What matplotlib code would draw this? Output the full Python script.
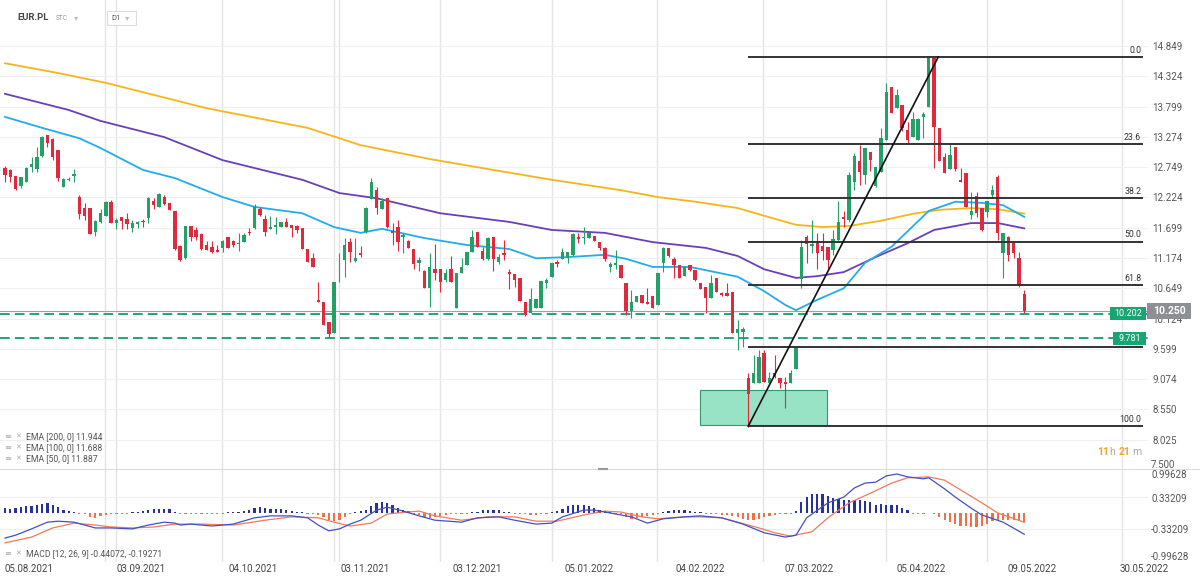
import numpy as np
import matplotlib
matplotlib.use("Agg")
import matplotlib.pyplot as plt
from matplotlib.patches import Rectangle
from matplotlib.lines import Line2D

plt.rcParams['font.family'] = ['Roboto', 'DejaVu Sans']

# daily candles, EUR.PL (05.08.2021 - 11.05.2022)
opens = [12.73, 12.70, 12.60, 12.42, 12.50, 12.76, 12.71, 12.94, 13.30, 13.23,
         13.05, 12.40, 12.52, 12.60, 12.23, 12.04, 12.04, 11.63, 11.80, 11.90,
         12.15, 11.78, 11.88, 11.85, 11.69, 11.76, 11.82, 11.86, 12.17, 12.06,
         12.23, 12.12, 11.99, 11.38, 11.17, 11.73, 11.66, 11.59, 11.40, 11.37,
         11.31, 11.34, 11.53, 11.47, 11.42, 11.46, 11.63, 11.69, 12.02, 11.85,
         11.68, 11.72, 11.71, 11.79, 11.75, 11.73, 11.69, 11.33, 11.17, 10.45,
         10.42, 10.07, 9.88, 11.01, 11.14, 11.46, 11.12, 11.26, 11.63, 12.19,
         12.35, 12.02, 12.21, 11.64, 11.72, 11.53, 11.47, 11.33, 11.08, 10.95,
         10.66, 10.99, 10.99, 10.79, 10.99, 10.30, 10.91, 11.05, 11.28, 11.63,
         11.30, 11.15, 11.53, 11.11, 11.26, 10.93, 10.90, 10.82, 10.42, 10.22,
         10.30, 10.30, 10.74, 10.85, 11.11, 11.15, 11.17, 11.23, 11.54, 11.52,
         11.52, 11.56, 11.45, 11.34, 11.01, 11.05, 11.05, 10.74, 10.26, 10.42,
         10.53, 10.42, 10.52, 10.36, 11.08, 11.34, 11.15, 11.05, 10.86, 11.05,
         10.97, 10.74, 10.68, 10.48, 10.83, 10.56, 10.56, 10.59, 9.87, 9.90,
         9.09, 9.00, 9.00, 9.52, 9.00, 9.19, 9.10, 9.02, 9.00, 9.25,
         10.81, 11.53, 11.38, 11.46, 11.38, 11.36, 11.31, 11.49, 11.88, 11.83,
         12.50, 12.86, 12.61, 13.02, 12.42, 12.67, 13.22, 14.14, 13.77, 13.83,
         13.40, 13.28, 13.22, 13.61, 13.80, 14.64, 13.42, 12.93, 12.71, 13.09,
         12.53, 12.64, 11.92, 12.25, 12.04, 11.98, 12.27, 12.58, 11.26, 11.54,
         11.43, 11.17, 10.55]
highs = [12.77, 12.71, 12.60, 12.58, 12.75, 12.93, 13.10, 13.29, 13.31, 13.25,
         13.05, 12.56, 12.58, 12.71, 12.27, 12.12, 12.04, 11.83, 12.02, 12.17,
         12.18, 11.86, 11.89, 11.96, 11.83, 11.82, 11.85, 12.23, 12.21, 12.30,
         12.27, 12.12, 11.99, 11.40, 11.73, 11.73, 11.72, 11.61, 11.47, 11.47,
         11.40, 11.49, 11.53, 11.49, 11.61, 11.60, 11.69, 12.11, 12.06, 11.92,
         11.90, 11.89, 11.80, 11.86, 11.75, 11.75, 11.69, 11.33, 11.26, 10.75,
         10.42, 10.07, 10.75, 11.26, 11.52, 11.52, 11.52, 11.38, 12.06, 12.56,
         12.41, 12.21, 12.21, 11.78, 11.83, 11.60, 11.49, 11.33, 11.19, 10.97,
         11.26, 11.42, 10.99, 10.99, 11.21, 10.91, 11.17, 11.27, 11.66, 11.63,
         11.36, 11.54, 11.54, 11.24, 11.49, 10.99, 10.90, 10.82, 10.42, 10.65,
         10.46, 10.78, 10.82, 11.09, 11.14, 11.34, 11.28, 11.60, 11.60, 11.71,
         11.63, 11.56, 11.46, 11.37, 11.11, 11.32, 11.05, 10.74, 10.62, 10.52,
         10.53, 10.65, 10.52, 10.91, 11.37, 11.34, 11.19, 11.05, 11.01, 11.06,
         10.97, 10.74, 10.68, 10.88, 10.83, 10.59, 10.74, 10.59, 10.10, 9.98,
         9.18, 9.49, 9.58, 9.58, 9.20, 9.49, 9.10, 9.12, 9.23, 9.64,
         11.49, 11.57, 11.83, 11.60, 11.60, 11.36, 11.66, 12.17, 11.99, 12.67,
         12.99, 13.13, 13.08, 13.02, 12.76, 13.42, 14.21, 14.14, 14.10, 13.83,
         13.54, 13.71, 13.60, 13.71, 14.66, 14.66, 13.42, 12.99, 13.16, 13.09,
         12.73, 12.64, 12.32, 12.32, 12.04, 12.17, 12.44, 12.61, 11.60, 11.56,
         11.43, 11.28, 10.62]
lows = [12.50, 12.50, 12.36, 12.39, 12.50, 12.67, 12.67, 12.93, 13.10, 12.87,
        12.51, 12.40, 12.51, 12.49, 11.85, 11.83, 11.59, 11.56, 11.78, 11.90,
        11.78, 11.68, 11.67, 11.67, 11.63, 11.69, 11.71, 11.78, 12.02, 12.05,
        12.09, 12.01, 11.31, 11.13, 11.16, 11.47, 11.49, 11.31, 11.31, 11.26,
        11.27, 11.27, 11.34, 11.36, 11.30, 11.45, 11.57, 11.68, 11.90, 11.56,
        11.67, 11.59, 11.71, 11.72, 11.54, 11.61, 11.33, 11.11, 11.01, 10.41,
        10.01, 9.81, 9.88, 10.76, 10.85, 11.11, 11.11, 11.20, 11.60, 12.19,
        11.93, 12.02, 11.69, 11.40, 11.30, 11.26, 11.35, 10.99, 10.95, 10.65,
        10.33, 10.79, 10.59, 10.76, 10.75, 10.30, 10.91, 11.05, 11.28, 11.36,
        11.14, 11.14, 10.95, 11.07, 11.14, 10.63, 10.68, 10.43, 10.17, 10.22,
        10.30, 10.30, 10.65, 10.85, 11.01, 11.15, 11.08, 11.21, 11.44, 11.42,
        11.52, 11.47, 11.31, 11.13, 10.94, 10.99, 10.82, 10.19, 10.13, 10.42,
        10.40, 10.38, 10.30, 10.36, 10.94, 11.20, 10.82, 10.82, 10.86, 10.95,
        10.78, 10.63, 10.23, 10.48, 10.58, 10.52, 10.52, 9.87, 9.58, 9.64,
        8.25, 9.00, 9.00, 9.03, 9.00, 9.09, 8.92, 8.57, 9.00, 9.25,
        10.65, 11.09, 11.26, 10.98, 11.14, 10.97, 11.23, 11.46, 11.72, 11.80,
        12.35, 12.44, 12.46, 12.69, 12.40, 12.67, 13.22, 13.69, 13.77, 13.38,
        13.17, 13.28, 13.22, 13.25, 13.80, 12.73, 12.86, 12.65, 12.71, 12.69,
        12.50, 12.06, 11.85, 11.89, 11.65, 11.89, 12.24, 11.49, 10.82, 11.13,
        11.17, 10.68, 10.22]
closes = [12.61, 12.58, 12.37, 12.57, 12.73, 12.80, 12.93, 13.28, 13.16, 12.93,
          12.56, 12.54, 12.54, 12.63, 11.93, 11.90, 11.59, 11.82, 11.95, 12.15,
          11.78, 11.83, 11.82, 11.76, 11.78, 11.80, 11.79, 12.21, 12.10, 12.28,
          12.11, 12.01, 11.33, 11.14, 11.73, 11.54, 11.54, 11.33, 11.31, 11.28,
          11.28, 11.47, 11.34, 11.40, 11.44, 11.57, 11.60, 12.06, 11.92, 11.63,
          11.71, 11.75, 11.79, 11.72, 11.69, 11.66, 11.33, 11.11, 11.01, 10.41,
          10.01, 9.86, 10.75, 11.02, 11.40, 11.27, 11.17, 11.23, 12.04, 12.50,
          12.04, 12.17, 11.71, 11.61, 11.46, 11.57, 11.35, 11.07, 11.14, 10.66,
          11.02, 10.91, 10.76, 10.92, 10.75, 10.91, 11.02, 11.27, 11.53, 11.36,
          11.15, 11.52, 11.15, 11.19, 11.23, 10.90, 10.79, 10.43, 10.19, 10.46,
          10.46, 10.78, 10.79, 11.09, 11.07, 11.27, 11.28, 11.59, 11.50, 11.54,
          11.60, 11.47, 11.34, 11.15, 11.07, 11.08, 10.82, 10.26, 10.42, 10.52,
          10.40, 10.38, 10.30, 10.91, 11.34, 11.21, 11.05, 10.82, 11.01, 10.97,
          10.79, 10.63, 10.48, 10.74, 10.58, 10.53, 10.52, 9.88, 9.94, 9.94,
          8.82, 9.18, 9.46, 9.03, 9.09, 9.12, 9.00, 8.99, 9.18, 9.64,
          11.36, 11.42, 11.42, 11.26, 11.30, 11.14, 11.50, 11.80, 11.85, 12.61,
          12.94, 12.67, 13.08, 12.87, 12.75, 13.25, 14.06, 13.69, 14.00, 13.42,
          13.22, 13.58, 13.58, 13.67, 14.65, 13.44, 12.86, 12.65, 12.96, 12.71,
          12.50, 12.06, 11.99, 11.95, 11.66, 12.17, 12.35, 11.60, 11.60, 11.23,
          11.26, 10.71, 10.25]

# moving averages read at selected candles
ema200_idx = [0, 10, 19, 38, 57, 67, 80, 92, 103, 116, 123, 130, 138, 144, 149, 154,
              159, 165, 171, 176, 182, 187, 192]
ema200_val = [14.55, 14.38, 14.21, 13.77, 13.43, 13.13, 12.89, 12.70, 12.53, 12.35, 12.23,
              12.15, 12.04, 11.88, 11.75, 11.71, 11.73, 11.82, 11.94, 12.01, 12.04, 12.02, 11.944]
ema100_idx = [0, 12, 18, 30, 41, 56, 63, 70, 82, 95, 103, 113, 122, 132, 138, 143, 149,
              153, 158, 164, 170, 175, 182, 187, 192]
ema100_val = [14.02, 13.74, 13.55, 13.27, 12.87, 12.53, 12.30, 12.21, 11.95, 11.80, 11.66,
              11.61, 11.45, 11.35, 11.21, 10.98, 10.83, 10.86, 10.93, 11.19, 11.43, 11.66,
              11.78, 11.78, 11.688]
ema50_idx = [0, 7, 14, 18, 26, 32, 41, 47, 56, 62, 67, 71, 79, 87, 95, 100, 106, 113, 117,
             122, 129, 138, 143, 147, 149, 153, 158, 162, 167, 174, 179, 184, 188, 192]
ema50_val = [13.62, 13.43, 13.25, 13.08, 12.70, 12.56, 12.23, 12.06, 11.95, 11.71, 11.61,
             11.68, 11.52, 11.40, 11.33, 11.17, 11.19, 11.23, 11.16, 11.02, 11.02, 10.85,
             10.60, 10.36, 10.27, 10.45, 10.65, 11.09, 11.37, 11.99, 12.15, 12.13, 12.09, 11.887]

# MACD (12, 26, 9)
macd_idx = [0, 2, 5, 8, 10, 13, 17, 20, 24, 27, 30, 32, 33, 35, 39, 43, 47, 50, 54, 57,
            59, 61, 63, 65, 67, 70, 72, 75, 78, 81, 86, 89, 93, 96, 100, 103, 105, 109,
            111, 114, 118, 121, 124, 128, 131, 135, 139, 143, 147, 149, 151, 155, 158,
            160, 162, 164, 166, 168, 170, 173, 174, 177, 179, 182, 184, 188, 192]
macd_val = [-0.52, -0.46, -0.33, -0.19, -0.17, -0.19, -0.31, -0.31, -0.33, -0.25, -0.19,
            -0.21, -0.25, -0.23, -0.27, -0.23, -0.10, -0.06, -0.06, -0.10, -0.25, -0.37,
            -0.33, -0.23, -0.15, 0.06, 0.12, 0.04, -0.06, -0.15, -0.19, -0.10, -0.08,
            -0.15, -0.23, -0.21, -0.08, 0.06, 0.06, 0.00, -0.08, -0.21, -0.12, -0.08,
            -0.06, -0.10, -0.23, -0.41, -0.50, -0.46, -0.10, 0.21, 0.33, 0.52, 0.62,
            0.64, 0.77, 0.81, 0.75, 0.71, 0.73, 0.50, 0.33, 0.10, -0.04, -0.19, -0.44072]
signal_idx = [0, 5, 9, 13, 17, 20, 24, 28, 32, 37, 43, 49, 54, 59, 62, 65, 69, 72, 78,
              81, 86, 91, 96, 100, 104, 109, 113, 116, 120, 123, 128, 131, 135, 142,
              145, 148, 152, 155, 159, 163, 167, 170, 174, 177, 180, 184, 187, 192]
signal_val = [-0.62, -0.50, -0.31, -0.21, -0.25, -0.29, -0.31, -0.29, -0.23, -0.23, -0.25,
              -0.15, -0.08, -0.10, -0.19, -0.27, -0.21, -0.02, 0.04, -0.06, -0.15, -0.08,
              -0.08, -0.17, -0.17, -0.04, 0.04, 0.02, -0.08, -0.12, -0.08, -0.08, -0.10,
              -0.31, -0.41, -0.48, -0.39, -0.10, 0.21, 0.41, 0.62, 0.73, 0.75, 0.68, 0.48,
              0.21, 0.00, -0.19271]
hist = [0.10, 0.09, 0.10, 0.12, 0.14, 0.14, 0.16, 0.19, 0.21, 0.17, 0.12, 0.07, 0.05, 0.02,
        -0.01, -0.03, -0.09, -0.10, -0.07, -0.05, -0.03, -0.02, -0.01, -0.01,
        0.02, 0.03, 0.05, 0.07, 0.09, 0.09, 0.09, 0.09, 0.03,
        -0.01, -0.01, -0.02, -0.02, -0.01, -0.02, -0.02, -0.01, -0.01,
        0.01, 0.02, 0.03, 0.05, 0.07, 0.10, 0.12, 0.10, 0.09, 0.09, 0.08, 0.06, 0.05, 0.03, 0.02,
        -0.02, -0.02, -0.05, -0.09, -0.14, -0.17, -0.14, -0.09, -0.02,
        0.02, 0.05, 0.07, 0.14, 0.21, 0.22, 0.21, 0.17, 0.10, 0.07, 0.05,
        -0.02, -0.05, -0.09, -0.10, -0.09, -0.07, -0.05, -0.03, -0.02, -0.01, -0.01,
        0.02, 0.03, 0.07, 0.07, 0.07, 0.06, 0.03, 0.02,
        -0.01, -0.02, -0.03, -0.05, -0.05, -0.03, -0.01,
        0.02, 0.05, 0.09, 0.14, 0.16, 0.16, 0.16, 0.14, 0.10, 0.07, 0.05, 0.02,
        -0.01, -0.03, -0.09, -0.12, -0.10, -0.09, -0.07, -0.05, -0.02,
        0.02, 0.05, 0.07, 0.07, 0.07, 0.05, 0.03, 0.02,
        -0.01, -0.02, -0.03, -0.04, -0.05, -0.06, -0.08, -0.12, -0.14, -0.15, -0.12, -0.08,
        -0.07, -0.05, -0.03, -0.01, -0.01,
        0.04, 0.23, 0.33, 0.40, 0.40, 0.39, 0.35, 0.32, 0.30, 0.28, 0.26, 0.26, 0.26, 0.25,
        0.23, 0.17, 0.19, 0.17, 0.16, 0.16, 0.10, 0.06,
        -0.01, -0.01, -0.01, 0.0, -0.02, -0.08, -0.14, -0.19, -0.22, -0.26, -0.28, -0.29,
        -0.29, -0.26, -0.22, -0.17, -0.15, -0.14, -0.15, -0.15, -0.17, -0.19]

# drawings
fib_hi, fib_lo = 14.66, 8.26
fib_levels = [0.0, 23.6, 38.2, 50.0, 61.8, 78.6, 100.0]
fib_hidden = [78.6]          # its label sits under the 9.781 tag
support_lines = [10.202, 9.781]
last_price = 10.250
zone_lo, zone_hi = 8.28, 8.89

price_ticks = [14.849, 14.324, 13.799, 13.274, 12.749, 12.224, 11.699, 11.174,
               10.649, 10.124, 9.599, 9.074, 8.550, 8.025]
date_labels = ['05.08.2021', '03.09.2021', '04.10.2021', '03.11.2021', '03.12.2021',
               '05.01.2022', '04.02.2022', '07.03.2022', '05.04.2022', '09.05.2022',
               '30.05.2022']
date_pos = [4.5, 25.6, 46.7, 67.8, 88.9, 110.0, 130.9, 151.4, 172.5, 193.4, 214.5]
month_grid = [18.8, 20.9, 40.9, 62.0, 62.9, 81.9, 103.0, 122.8, 142.8, 165.9, 185.0, 210.4]

GREEN, RED = '#24a067', '#e0293d'
W, H = 1200, 580


def fx(x):
    return x / W


def fy(y):
    return 1 - y / H


fig = plt.figure(figsize=(12, 5.8), dpi=100)
ax = fig.add_axes([0, fy(468), 1148 / W, 468 / H])
ax2 = fig.add_axes([0, fy(562), 1148 / W, 94 / H])
for a in (ax, ax2):
    a.set_xlim(-0.94, 215.3)
    for s in a.spines.values():
        s.set_visible(False)
    for g in month_grid:
        a.axvline(g, color='#e4e4e4', lw=1.0, zorder=0)
ax.set_ylim(7.535, 15.646)
ax2.set_ylim(-1.017, 0.934)

# price pane grid + axis
for t in price_ticks:
    ax.axhline(t, color='#efefef', lw=0.8, zorder=0)
ax.set_yticks(price_ticks, labels=['%.3f' % t for t in price_ticks])
ax.yaxis.tick_right()
ax.tick_params(axis='y', length=0, pad=3, labelsize=7, labelcolor='#555555')
ax.tick_params(axis='x', length=0, labelbottom=False)

o, h, l, c = map(np.array, (opens, highs, lows, closes))
n = len(c)
idx = np.arange(n)

# supply zone
ax.add_patch(Rectangle((130.9, zone_lo), 23.9, zone_hi - zone_lo, fc='#98e2c6',
                       ec='#2e9a6e', lw=0.8, zorder=1))

# current price and support lines
ax.axhline(last_price, color='#a0a0a0', lw=0.8, zorder=1)
for lvl in support_lines:
    ax.axhline(lvl, color='#22a474', lw=1.4, dashes=(5, 2.6), zorder=2)

# EMAs
ax.plot(ema200_idx, ema200_val, color='#f4b619', lw=1.3, zorder=2)
ax.plot(ema100_idx, ema100_val, color='#6a3fb8', lw=1.3, zorder=2)
ax.plot(ema50_idx, ema50_val, color='#22acea', lw=1.3, zorder=2)

# candles
col = np.where(c >= o, GREEN, RED)
ax.vlines(idx, l, h, colors=col, lw=0.8, zorder=3)
ax.bar(idx, np.maximum(np.abs(c - o), 0.015), bottom=np.minimum(o, c), width=0.64,
       color=col, linewidth=0, zorder=4)

# fibonacci retracement
fib_start, fib_end = 140, 214.4
for r in fib_levels:
    p = fib_hi - r / 100 * (fib_hi - fib_lo)
    ax.plot([fib_start, fib_end], [p, p], color='#333333', lw=1.4, zorder=5,
            solid_capstyle='butt')
    if r not in fib_hidden:
        ax.text(fib_end - 0.4, p + 0.04, '%.1f' % r, ha='right', va='bottom',
                fontsize=6.3, color='#333333', zorder=5)
ax.plot([fib_start, 175.8], [fib_lo, fib_hi], color='#111111', lw=1.2, zorder=6)

# MACD pane
hv = np.array(hist)
hcol = np.where(hv >= 0, '#26329c', '#f0704c')
hdraw = np.where(np.abs(hv) < 0.015, np.sign(hv) * 0.015, hv)
ax2.bar(idx, hdraw, width=0.42, color=hcol, linewidth=0, zorder=2)
for g in (0.33209, -0.33209):
    ax2.axhline(g, color='#eeeeee', lw=0.8, zorder=0)
ax2.plot(signal_idx, signal_val, color='#f07a5a', lw=0.9, zorder=3)
ax2.plot(macd_idx, macd_val, color='#4350c2', lw=0.9, zorder=4)
ax2.set_yticks([])
ax2.set_xticks(date_pos, labels=date_labels)
ax2.tick_params(axis='x', length=0, pad=1.5, labelsize=7, labelcolor='#444444')

for txt, yy in (('0.99628', 475), ('0.33209', 499), ('-0.33209', 530), ('-0.99628', 557),
                ('7.500', 465)):
    fig.text(fx(1151), fy(yy), txt, ha='left', va='center', fontsize=7, color='#555555')

# pane separator
fig.add_artist(Line2D([0, 1], [fy(469), fy(469)], color='#dddddd', lw=0.8))
fig.add_artist(Line2D([fx(599), fx(607)], [fy(469), fy(469)], color='#999999', lw=1.5))


# price tags
def tag(x0, x1, y0, y1, color, text, size, weight='normal'):
    fig.add_artist(Rectangle((fx(x0), fy(y1)), (x1 - x0) / W, (y1 - y0) / H,
                             transform=fig.transFigure, fc=color, ec='none', zorder=5))
    fig.text(fx((x0 + x1) / 2), fy((y0 + y1) / 2), text, ha='center', va='center',
             fontsize=size, color='white', weight=weight, zorder=6)


tag(1110, 1146, 307, 320, '#17a673', '%.3f' % support_lines[0], 6.5)
tag(1113, 1146, 332, 345, '#17a673', '%.3f' % support_lines[1], 6.5)
tag(1147, 1191, 303, 319, '#8c9094', '%.3f' % last_price, 7.5, 'bold')

# header
fig.text(fx(17), fy(18), 'EUR.PL', fontsize=6.8, weight='bold', color='#444444',
         va='center')
fig.text(fx(56), fy(19), 'STC', fontsize=4.8, color='#999999', va='center')
fig.text(fx(74), fy(18), '▾', fontsize=6, color='#bbbbbb', va='center')
fig.add_artist(Rectangle((fx(107), fy(25)), 29 / W, 14 / H, transform=fig.transFigure,
                         fc='white', ec='#dddddd', lw=0.8, zorder=5))
fig.text(fx(111), fy(18), 'D1', fontsize=5.5, color='#555555', va='center', zorder=6)
fig.text(fx(125), fy(18), '▾', fontsize=6, color='#bbbbbb', va='center', zorder=6)

# legends
legend_rows = [('EMA [200, 0] %.3f' % ema200_val[-1], 437),
               ('EMA [100, 0] %.3f' % ema100_val[-1], 448),
               ('EMA [50, 0] %.3f' % ema50_val[-1], 459),
               ('MACD [12, 26, 9] %.5f, %.5f' % (macd_val[-1], signal_val[-1]), 554)]
for txt, yy in legend_rows:
    fig.text(fx(4), fy(yy), '≡', fontsize=6, color='#aaaaaa', va='center')
    fig.text(fx(15), fy(yy), '✕', fontsize=5, color='#aaaaaa', va='center')
    fig.text(fx(26), fy(yy), txt, fontsize=6.2, color='#555555', va='center')

# countdown
for txt, xx, cc, ww in (('11', 1097, '#f3a425', 'bold'), ('h', 1109, '#aaaaaa', 'normal'),
                        ('21', 1119, '#f3a425', 'bold'), ('m', 1132, '#aaaaaa', 'normal')):
    fig.text(fx(xx), fy(452), txt, fontsize=7.5, color=cc, weight=ww, va='center')

fig.savefig('out.png', dpi=100, facecolor='white')
